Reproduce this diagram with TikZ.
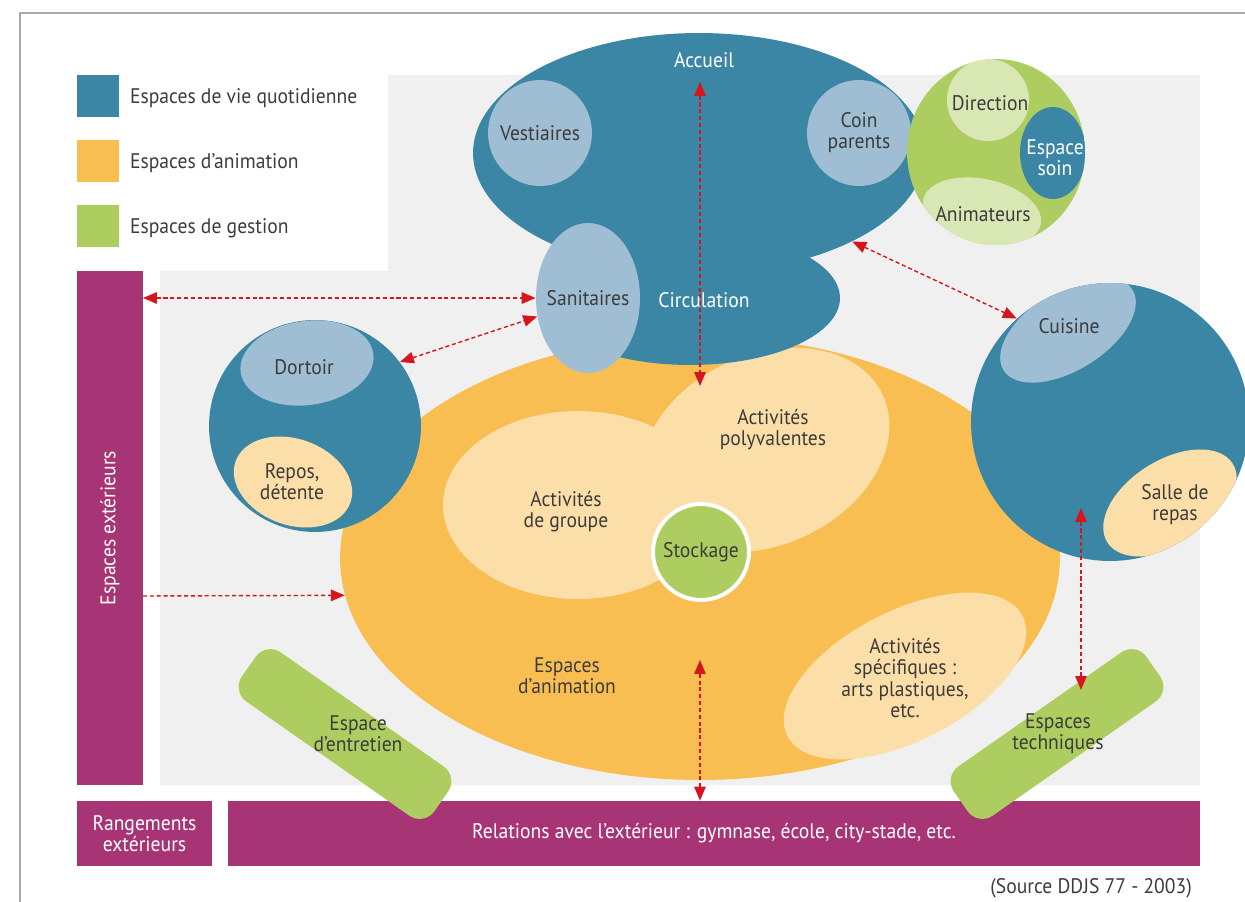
\documentclass[tikz,border=0pt]{standalone}
\usepackage{fontspec}
\setmainfont{PT Sans}[FakeStretch=0.93]
\usepackage{xcolor}
\usepackage{tikz}
\usetikzlibrary{shapes.geometric, positioning, arrows.meta}
\definecolor{VieBlue}{RGB}{59,134,164}
\definecolor{VieLight}{RGB}{159,190,211}
\definecolor{AnimOrange}{RGB}{249,190,82}
\definecolor{AnimLight}{RGB}{252,222,168}
\definecolor{GestGreen}{RGB}{174,205,96}
\definecolor{GestLight}{RGB}{217,231,181}
\definecolor{ExtPurple}{RGB}{167,53,117}
\definecolor{BgGrey}{RGB}{240,240,240}
\definecolor{FrameGrey}{RGB}{170,170,170}
\definecolor{TextGrey}{RGB}{60,60,60}
\definecolor{ArrowRed}{RGB}{213,22,30}
\newcommand{\zonefont}{\fontsize{12}{12}\selectfont}
\tikzset{
    zone/.style={
        ellipse, inner sep=0pt
    },
    legsquare/.style={
        rectangle, minimum size=0.84cm, inner sep=0pt
    },
    bar/.style={
        rectangle, fill=ExtPurple, inner sep=0pt, text=white
    },
    gbar/.style={
        rectangle, rounded corners=0.36cm, fill=GestGreen,
        minimum width=4.7cm, minimum height=1.2cm
    },
    dptr/.style={
        <->, >={Triangle[length=2.8mm, width=2.3mm]}, ArrowRed,
        line width=0.8pt, dash pattern=on 2.3pt off 1.6pt
    }
}

\begin{document}
\begin{tikzpicture}[x=0.02cm, y=-0.02cm, font=\zonefont, text=TextGrey, align=center]
    \useasboundingbox (0,0) rectangle (1245,902);

    % --- CADRE ET FOND ---
    \draw[FrameGrey, line width=0.8pt] (20,902) |- (1245,13);
    \fill[BgGrey] (160,271) -- (388,271) -- (388,75) -- (1200,75) -- (1200,785) -- (160,785) -- cycle;

    % --- LEGENDE ---
    \node[legsquare, fill=VieBlue] (legVie) at (98,96) {};
    \node[legsquare, fill=AnimOrange] (legAnim) at (98,161) {};
    \node[legsquare, fill=GestGreen] (legGest) at (98,226) {};
    \node[right=0.09cm of legVie, yshift=-0.05cm] (legVieTxt) {Espaces de vie quotidienne};
    \node[right=0.09cm of legAnim, yshift=-0.05cm] (legAnimTxt) {Espaces d'animation};
    \node[right=0.09cm of legGest, yshift=-0.05cm] (legGestTxt) {Espaces de gestion};

    % --- BANDES EXTERIEURES ---
    \node[bar, rotate=90, minimum width=10.28cm, minimum height=1.32cm] (exterieurs) at (110,528) {Espaces extérieurs};
    \node[bar, minimum width=2.7cm, minimum height=1.3cm] (rangements) at (144.5,833.5) {Rangements\\extérieurs};
    \node[bar, minimum width=19.44cm, minimum height=1.3cm] (relations) at (714,833.5) {Relations avec l'extérieur : gymnase, école, city-stade, etc.};

    % --- ESPACES D'ANIMATION ---
    \node[zone, fill=AnimOrange, minimum width=14.4cm, minimum height=8.88cm] (animation) at (700,558) {};
    \node[zone, fill=AnimLight, minimum width=5.4cm, minimum height=3.76cm] (groupe) at (578,505) {};
    \node[zone, fill=AnimLight, minimum width=5.2cm, minimum height=3.8cm, rotate=25] (polyvalentes) at (765,450) {};
    \node[zone, fill=AnimLight, minimum width=5.28cm, minimum height=2.6cm, rotate=27] (specifiques) at (905,676) {};
    \node[circle, fill=GestGreen, draw=white, line width=0.08cm, minimum size=1.92cm, inner sep=0pt] (stockage) at (701,552) {};

    % --- VIE QUOTIDIENNE ---
    \node[zone, fill=VieBlue, minimum width=6cm, minimum height=2.68cm] (circulation) at (690,298) {};
    \node[zone, fill=VieBlue, minimum width=9.04cm, minimum height=4.8cm] (accueil) at (699,153) {};
    \node[zone, fill=VieLight, minimum width=2.08cm, minimum height=2.12cm] (vestiaires) at (540,133) {};
    \node[zone, fill=VieLight, minimum width=2.08cm, minimum height=2.12cm] (coinparents) at (859,133) {};
    \node[zone, fill=VieLight, minimum width=2.08cm, minimum height=3cm] (sanitaires) at (588,298) {};

    % --- GESTION ---
    \node[zone, fill=GestGreen, minimum width=3.56cm, minimum height=3.72cm] (gestion) at (996,152) {};
    \begin{scope}
        \clip (gestion.center) ellipse [x radius=1.78cm, y radius=1.86cm];
        \node[zone, fill=GestLight, minimum size=1.64cm] (direction) at (988,100) {};
        \node[zone, fill=VieBlue, minimum width=1.32cm, minimum height=1.84cm] (soin) at (1053,153) {};
        \node[zone, fill=GestLight, minimum width=2.4cm, minimum height=1.32cm, rotate=-12] (animateurs) at (982,212) {};
    \end{scope}

    % --- DORTOIR ---
    \node[zone, fill=VieBlue, minimum size=4.24cm] (dortoir) at (315,426) {};
    \node[zone, fill=VieLight, minimum width=2.68cm, minimum height=1.68cm, rotate=8] (chambre) at (307,363) {};
    \node[zone, fill=AnimLight, minimum width=2.44cm, minimum height=1.72cm, rotate=-20] (repos) at (293,482) {};

    % --- CUISINE ---
    \node[zone, fill=VieBlue, minimum size=5.56cm] (cuisine) at (1110,422) {};
    \begin{scope}
        \clip (cuisine.center) circle [radius=2.78cm];
        \node[zone, fill=VieLight, minimum width=3.04cm, minimum height=1.6cm, rotate=32] (cuisineZone) at (1068,330) {};
        \node[zone, fill=AnimLight, minimum width=2.96cm, minimum height=1.72cm, rotate=32] (repas) at (1170,503) {};
    \end{scope}

    % --- BARRES DE GESTION ---
    \node[gbar, rotate=-35] (entretien) at (345,734) {};
    \node[gbar, rotate=35] (techniques) at (1057,734) {};

    % --- FLECHES ---
    \coordinate (extHaut) at (143,298);
    \coordinate (extBas) at (143,596);
    \coordinate (accueilHaut) at (700,82);
    \coordinate (circulationBas) at (700,386);
    \coordinate (animationBas) at (700,660);
    \coordinate (repasBas) at (1081,508);
    \coordinate (techniquesHaut) at (1081,690);
    \draw[dptr] (extHaut) -- (sanitaires.west);
    \draw[dptr] (dortoir.37) -- (sanitaires.200);
    \draw[dptr] (accueilHaut) -- (circulationBas);
    \draw[dptr] (accueil.-30) -- (cuisine.132);
    \draw[dptr, ->] (extBas) -- (animation.186);
    \draw[dptr] (animationBas) -- (animationBas |- relations.north);
    \draw[dptr] (repasBas) -- (techniquesHaut);

    % --- TEXTES ---
    \node[text=white] (accueilTxt) at (704,60) {Accueil};
    \node[text=white] (circulationTxt) at (704,300) {Circulation};
    \node (vestiairesTxt) at (vestiaires) {Vestiaires};
    \node (coinparentsTxt) at (coinparents) {Coin\\parents};
    \node (sanitairesTxt) at (sanitaires) {Sanitaires};
    \node (directionTxt) at (990,103) {Direction};
    \node[text=white] (soinTxt) at (1055,158) {Espace\\soin};
    \node (animateursTxt) at (983,214) {Animateurs};
    \node (dortoirTxt) at (304,367) {Dortoir};
    \node (reposTxt) at (292,482) {Repos,\\détente};
    \node (groupeTxt) at (566,512) {Activités\\de groupe};
    \node (polyvalentesTxt) at (773,430) {Activités\\polyvalentes};
    \node (stockageTxt) at (stockage) {Stockage};
    \node (specifiquesTxt) at (905,678) {Activités\\spécifiques :\\arts plastiques,\\etc.};
    \node (animationTxt) at (567,676) {Espaces\\d'animation};
    \node (cuisineTxt) at (1069,326) {Cuisine};
    \node (repasTxt) at (1175,505) {Salle de\\repas};
    \node (entretienTxt) at (358,734) {Espace\\d'entretien};
    \node (techniquesTxt) at (1058,734) {Espaces\\techniques};
    \node[anchor=east] (source) at (1198,888) {(Source DDJS 77 - 2003)};

\end{tikzpicture}
\end{document}
